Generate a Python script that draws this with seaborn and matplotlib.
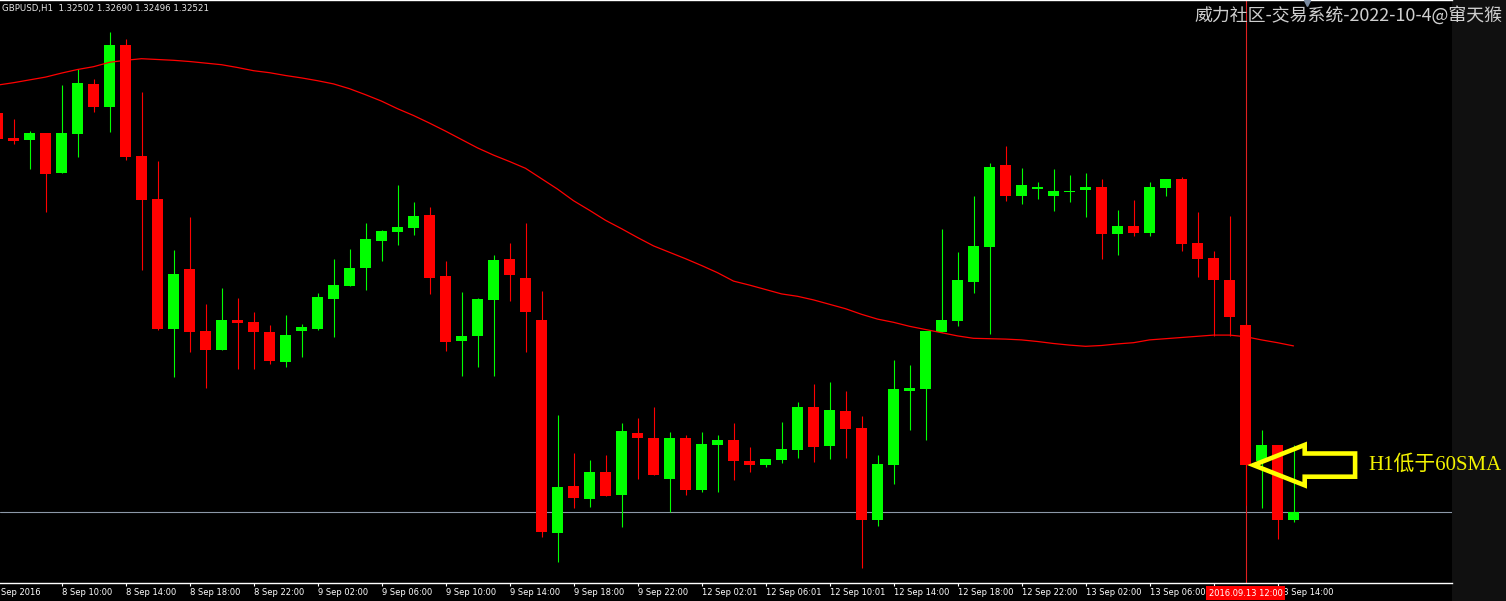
import numpy as np
import pandas as pd
import matplotlib
matplotlib.use("Agg")
import matplotlib.pyplot as plt
import matplotlib.transforms as mtransforms
from matplotlib.patches import FancyArrow, Rectangle
import seaborn as sns

# ---------------- data (GBPUSD H1, 8-13 Sep 2016) ----------------
symbol = "GBPUSD,H1"
opens = [
    1.33520, 1.33457, 1.33452, 1.33469, 1.33369, 1.33466, 1.33591, 1.33534, 1.33689, 1.33412,
    1.33304, 1.32979, 1.33129, 1.32974, 1.32927, 1.33001, 1.32997, 1.32972, 1.32896, 1.32974,
    1.32979, 1.33054, 1.33087, 1.33132, 1.33200, 1.33221, 1.33232, 1.33264, 1.33112, 1.32949,
    1.32961, 1.33052, 1.33154, 1.33107, 1.33001, 1.32469, 1.32587, 1.32554, 1.32622, 1.32564,
    1.32719, 1.32707, 1.32604, 1.32707, 1.32576, 1.32689, 1.32702, 1.32649, 1.32639, 1.32651,
    1.32676, 1.32784, 1.32687, 1.32774, 1.32732, 1.32503, 1.32639, 1.32824, 1.32829, 1.32972,
    1.32999, 1.33097, 1.33184, 1.33389, 1.33312, 1.33329, 1.33312, 1.33322, 1.33326, 1.33334,
    1.33217, 1.33237, 1.33219, 1.33332, 1.33354, 1.33194, 1.33157, 1.33101, 1.32989, 1.32649,
    1.32689, 1.32502]
highs = [
    1.33527, 1.33505, 1.33474, 1.33469, 1.33589, 1.33629, 1.33604, 1.33722, 1.33704, 1.33571,
    1.33399, 1.33177, 1.33259, 1.33041, 1.33081, 1.33057, 1.33021, 1.32989, 1.33014, 1.32992,
    1.33069, 1.33154, 1.33180, 1.33244, 1.33226, 1.33339, 1.33297, 1.33284, 1.33149, 1.33072,
    1.33057, 1.33164, 1.33194, 1.33244, 1.33074, 1.32764, 1.32669, 1.32651, 1.32664, 1.32744,
    1.32756, 1.32784, 1.32722, 1.32714, 1.32722, 1.32714, 1.32744, 1.32684, 1.32654, 1.32747,
    1.32796, 1.32842, 1.32847, 1.32824, 1.32762, 1.32664, 1.32901, 1.32889, 1.32974, 1.33229,
    1.33172, 1.33312, 1.33394, 1.33437, 1.33382, 1.33346, 1.33379, 1.33364, 1.33369, 1.33354,
    1.33277, 1.33302, 1.33346, 1.33354, 1.33359, 1.33272, 1.33174, 1.33261, 1.32994, 1.32727,
    1.32689, 1.32690]
lows = [
    1.33449, 1.33443, 1.33380, 1.33272, 1.33369, 1.33409, 1.33522, 1.33471, 1.33402, 1.33127,
    1.32976, 1.32859, 1.32921, 1.32832, 1.32927, 1.32879, 1.32879, 1.32892, 1.32884, 1.32909,
    1.32976, 1.32959, 1.33087, 1.33077, 1.33149, 1.33189, 1.33214, 1.33067, 1.32924, 1.32861,
    1.32884, 1.32861, 1.33049, 1.32921, 1.32459, 1.32397, 1.32531, 1.32534, 1.32562, 1.32485,
    1.32604, 1.32614, 1.32521, 1.32564, 1.32571, 1.32571, 1.32602, 1.32622, 1.32634, 1.32644,
    1.32656, 1.32647, 1.32654, 1.32656, 1.32382, 1.32488, 1.32591, 1.32727, 1.32702, 1.32972,
    1.32987, 1.33069, 1.32967, 1.33299, 1.33292, 1.33305, 1.33274, 1.33297, 1.33259, 1.33154,
    1.33164, 1.33212, 1.33212, 1.33312, 1.33174, 1.33109, 1.32963, 1.32963, 1.32539, 1.32531,
    1.32455, 1.32496]
closes = [
    1.33454, 1.33450, 1.33469, 1.33367, 1.33469, 1.33594, 1.33534, 1.33689, 1.33409, 1.33302,
    1.32979, 1.33117, 1.32972, 1.32927, 1.33001, 1.32994, 1.32972, 1.32899, 1.32964, 1.32984,
    1.33059, 1.33089, 1.33132, 1.33204, 1.33224, 1.33234, 1.33261, 1.33107, 1.32947, 1.32961,
    1.33054, 1.33152, 1.33114, 1.33021, 1.32471, 1.32584, 1.32556, 1.32622, 1.32562, 1.32724,
    1.32707, 1.32614, 1.32707, 1.32576, 1.32692, 1.32702, 1.32649, 1.32639, 1.32654, 1.32679,
    1.32784, 1.32684, 1.32776, 1.32729, 1.32503, 1.32642, 1.32829, 1.32832, 1.32974, 1.33001,
    1.33101, 1.33186, 1.33384, 1.33312, 1.33339, 1.33334, 1.33325, 1.33324, 1.33334, 1.33217,
    1.33237, 1.33219, 1.33334, 1.33354, 1.33192, 1.33154, 1.33101, 1.33009, 1.32639, 1.32689,
    1.32503, 1.32521]
sma60 = [
    1.33589, 1.33595, 1.33602, 1.33609, 1.33619, 1.33628, 1.33635, 1.33646, 1.33651, 1.33655,
    1.33653, 1.33651, 1.33648, 1.33644, 1.33640, 1.33633, 1.33625, 1.33620, 1.33613, 1.33607,
    1.33600, 1.33592, 1.33580, 1.33565, 1.33549, 1.33530, 1.33513, 1.33494, 1.33474, 1.33453,
    1.33432, 1.33414, 1.33398, 1.33381, 1.33355, 1.33329, 1.33300, 1.33276, 1.33251, 1.33230,
    1.33208, 1.33187, 1.33171, 1.33155, 1.33138, 1.33120, 1.33099, 1.33089, 1.33078, 1.33067,
    1.33061, 1.33052, 1.33041, 1.33030, 1.33016, 1.33004, 1.32996, 1.32986, 1.32978, 1.32970,
    1.32962, 1.32956, 1.32955, 1.32954, 1.32952, 1.32948, 1.32943, 1.32939, 1.32936, 1.32938,
    1.32942, 1.32945, 1.32952, 1.32955, 1.32958, 1.32961, 1.32964, 1.32964, 1.32960, 1.32952,
    1.32945, 1.32937]
first_label = "8 Sep 2016"
tick_labels = ["8 Sep 10:00", "8 Sep 14:00", "8 Sep 18:00", "8 Sep 22:00",
               "9 Sep 02:00", "9 Sep 06:00", "9 Sep 10:00", "9 Sep 14:00",
               "9 Sep 18:00", "9 Sep 22:00", "12 Sep 02:01", "12 Sep 06:01",
               "12 Sep 10:01", "12 Sep 14:00", "12 Sep 18:00", "12 Sep 22:00",
               "13 Sep 02:00", "13 Sep 06:00", "13 Sep 10:00", "13 Sep 14:00"]
cursor_bar = 78
cursor_label = "2016.09.13 12:00"
watermark = "威力社区-交易系统-2022-10-4@窜天猴"
note = "H1低于60SMA"

# ---------------- style ----------------
sns.set_theme(style="dark", rc={"axes.facecolor": "black", "figure.facecolor": "black"})
plt.rcParams["font.family"] = ["DejaVu Sans", "Noto Sans CJK SC"]

W, H = 1506, 601
fig = plt.figure(figsize=(W / 100, H / 100), dpi=100)
fig.patch.set_facecolor("black")
fig.patches.append(Rectangle((1452 / W, 0), 54 / W, 1, transform=fig.transFigure,
                             facecolor="#101010", edgecolor="none", zorder=-5))
ax = fig.add_axes([0, 18 / H, 1452 / W, 583 / H])
ax.set_facecolor("black")
ax.set_zorder(1)

o = np.array(opens); h = np.array(highs); l = np.array(lows); c = np.array(closes)
pos = np.arange(len(o))
bull = c >= o
colors = np.where(bull, "#00ff00", "#ff0000")

ax.axhline(c[-1], color="#8c98a8", lw=0.8, zorder=1)
ax.axvline(pos[cursor_bar], color="#e02020", lw=0.8, zorder=1.2)
ax.vlines(pos, l, h, colors=colors, lw=0.8, zorder=2)
ax.bar(pos, np.maximum(np.abs(c - o), 0.00003), bottom=np.minimum(o, c),
       width=0.6875, color=colors, linewidth=0, zorder=3)
sns.lineplot(data=pd.DataFrame({"bar": pos, "sma": sma60}), x="bar", y="sma",
             ax=ax, color="#ff0000", lw=0.9, zorder=4)

ax.set_xlim(2.5 / 16, (1452 + 2.5) / 16)
ax.set_ylim(1.3234425, 1.3380175)
ax.set_xlabel(""); ax.set_ylabel("")
ax.set_yticks([])
for s in ["left", "right"]:
    ax.spines[s].set_visible(False)
for s in ["top", "bottom"]:
    ax.spines[s].set_color("white"); ax.spines[s].set_linewidth(1.0)

tick_pos = pos[4::4][:len(tick_labels)]
ax.set_xticks(tick_pos, tick_labels, ha="left")
ax.tick_params(axis="x", colors="white", length=2.2, width=0.8, pad=1.5,
               labelsize=6, direction="out", bottom=True)
ax.annotate(first_label, xy=(pos[0], 0), xycoords=("data", "axes fraction"),
            xytext=(-3, -3.7), textcoords="offset points", ha="left", va="top",
            color="white", fontsize=6, annotation_clip=False)
ax.annotate(cursor_label, xy=(pos[cursor_bar], 0), xycoords=("data", "axes fraction"),
            xytext=(0, -4.0), textcoords="offset points", ha="center", va="top",
            color="white", fontsize=6, zorder=10, annotation_clip=False,
            bbox=dict(boxstyle="square,pad=0.25", fc="#ff0000", ec="none"))

# chart-shift marker
trans = mtransforms.blended_transform_factory(ax.transData, ax.transAxes)
ax.plot([pos[-1] + 0.83], [1 - 3 / 583], marker="v", ms=5, color="#7a8aa0",
        transform=trans, clip_on=False, zorder=6)

# arrow annotation
tip = pos[cursor_bar] + 0.5
alen = 6.35
ax.add_patch(FancyArrow(tip + alen, c[cursor_bar], -alen, 0, width=0.00058,
                        head_width=0.00101, head_length=3.2, length_includes_head=True,
                        fill=False, edgecolor="#ffff00", lw=3.3, joinstyle="miter",
                        zorder=8, clip_on=False))
ax.text(tip + alen + 0.8, c[cursor_bar], note, ha="left", va="center", color="#f2f200",
        fontsize=15, family=["Liberation Serif", "Noto Sans CJK SC"], zorder=9, clip_on=False)

fig.text(2 / W, 1 - 8 / H,
         f"{symbol}  {opens[-1]:.5f} {highs[-1]:.5f} {lows[-1]:.5f} {closes[-1]:.5f}",
         ha="left", va="center", color="#e6e6e6", fontsize=6.2, zorder=5)
fig.text(1502 / W, 1 - 15 / H, watermark, ha="right", va="center", color="#cfcfcf",
         fontsize=12.9, family=["Noto Sans CJK SC", "DejaVu Sans"], zorder=5)

fig.savefig("out.png", dpi=100, facecolor="black")
